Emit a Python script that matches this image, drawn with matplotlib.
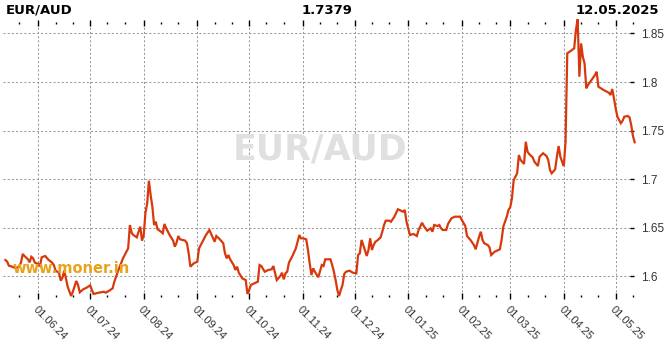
import numpy as np
import pandas as pd
import matplotlib
matplotlib.use('Agg')
import matplotlib.pyplot as plt
import matplotlib.dates as mdates
from matplotlib.ticker import FuncFormatter, MultipleLocator

pair = 'EUR/AUD'
site = 'www.moner.in'
base_date = '2024-06-01'

# days counted from base_date
day = [-19, -18, -17, -15, -13, -11, -10, -9, -8, -6, -5, -4, -3, -2,
       0, 1, 2, 4, 6, 8, 9, 10, 12, 13, 14, 15, 16, 17, 19, 20, 22, 23, 24, 26, 28,
       30, 31, 32, 35, 38, 39, 41, 43, 44, 46, 49, 51, 52, 53, 54, 55, 57, 58, 59, 60,
       61, 62, 63, 64, 65, 66, 67, 68, 69, 71, 72, 73, 74, 76, 78, 79, 80, 81, 82, 85,
       86, 87, 88, 90, 92, 93, 95, 97, 99, 100, 102, 103, 105, 107, 108, 109, 110, 111,
       113, 114, 115, 116, 118, 120, 121, 122, 123, 125, 127, 128, 129, 131, 133, 135,
       136, 137, 138, 140, 141, 142, 143, 144, 145, 147, 149, 151, 152, 153, 155, 156,
       157, 158, 159, 160, 162, 164, 165, 166, 169, 170, 171, 172, 173, 174, 175, 176,
       177, 178, 180, 182, 184, 185, 186, 187, 188, 190, 191, 192, 193, 194, 195, 196,
       198, 199, 200, 201, 203, 204, 206, 208, 209, 211, 212, 213, 214, 215, 217, 219,
       220, 222, 223, 225, 227, 228, 229, 231, 232, 233, 234, 236, 237, 239, 241, 244,
       245, 247, 248, 250, 252, 253, 255, 256, 257, 258, 260, 261, 262, 264, 267, 268,
       269, 271, 272, 273, 274, 275, 277, 278, 279, 281, 282, 283, 284, 286, 287, 289,
       290, 292, 294, 295, 296, 297, 299, 300, 301, 302, 303, 304, 305, 306, 308, 310,
       311, 312, 313, 314, 315, 316, 317, 318, 320, 322, 323, 324, 327, 330, 331, 332,
       333, 334, 335, 337, 338, 339, 341, 342, 343, 344, 345]

rate = [1.6167, 1.6150, 1.6108, 1.6098, 1.6081, 1.6100, 1.6140, 1.6229, 1.6208, 1.6174,
        1.6143, 1.6200, 1.6184, 1.6140,
        1.6126, 1.6108, 1.6195, 1.6208, 1.6167, 1.6140, 1.6115, 1.6057, 1.6036, 1.5954,
        1.5985, 1.6057, 1.5978, 1.5892, 1.5796, 1.5840, 1.5951, 1.5910, 1.5834, 1.5865,
        1.5882,
        1.5906, 1.5858, 1.5817, 1.5830, 1.5840, 1.5830, 1.5850, 1.5875, 1.5943, 1.6046,
        1.6184, 1.6252, 1.6287, 1.6527, 1.6448, 1.6424, 1.6400, 1.6458, 1.6510, 1.6366,
        1.6424, 1.6654, 1.6750, 1.6984, 1.6836, 1.6716, 1.6527, 1.6561, 1.6483, 1.6458,
        1.6442, 1.6538, 1.6493, 1.6424, 1.6366, 1.6304, 1.6345, 1.6414, 1.6380, 1.6366,
        1.6339, 1.6236, 1.6098, 1.6133, 1.6150, 1.6287, 1.6355, 1.6424, 1.6476, 1.6435,
        1.6355, 1.6414, 1.6380, 1.6339, 1.6236, 1.6184, 1.6218, 1.6174,
        1.6115, 1.6064, 1.6098, 1.6036, 1.5978, 1.5960, 1.5817, 1.5858, 1.5910, 1.5927,
        1.5943, 1.6115, 1.6105, 1.6046, 1.6064, 1.6071,
        1.6105, 1.6030, 1.5960, 1.6002, 1.6036, 1.5968, 1.6030, 1.6046, 1.6140, 1.6208,
        1.6287, 1.6424, 1.6390, 1.6390, 1.6380, 1.6270,
        1.6133, 1.6012, 1.6081, 1.6046, 1.5989, 1.6115, 1.6105, 1.6174, 1.6174, 1.6115,
        1.6046, 1.5960, 1.5858, 1.5796, 1.5858, 1.5910,
        1.6023, 1.6046, 1.6057, 1.6036, 1.6030, 1.6218, 1.6236, 1.6373, 1.6321, 1.6208,
        1.6270, 1.6390, 1.6270, 1.6321, 1.6355, 1.6366,
        1.6400, 1.6458, 1.6527, 1.6572, 1.6572, 1.6561, 1.6613, 1.6689, 1.6682, 1.6664,
        1.6682, 1.6561, 1.6493, 1.6424, 1.6435, 1.6414,
        1.6476, 1.6551, 1.6517, 1.6469, 1.6493, 1.6458, 1.6527, 1.6517, 1.6527, 1.6493,
        1.6476, 1.6476, 1.6538, 1.6596, 1.6613, 1.6613,
        1.6579, 1.6517, 1.6414, 1.6373, 1.6321, 1.6277, 1.6407, 1.6458, 1.6373, 1.6339,
        1.6321, 1.6298, 1.6218, 1.6252, 1.6277, 1.6373,
        1.6510, 1.6613, 1.6682, 1.6710, 1.6802, 1.6990, 1.7060, 1.7248, 1.7197, 1.7156,
        1.7385, 1.7282, 1.7258, 1.7224, 1.7179, 1.7135,
        1.7231, 1.7266, 1.7238, 1.7197, 1.7094, 1.7060, 1.7101, 1.7231, 1.7341, 1.7231,
        1.7179, 1.7135, 1.7385, 1.8296, 1.8320, 1.8347,
        1.8536, 1.8646, 1.8055, 1.8398, 1.8260, 1.8192, 1.7935, 1.7969, 1.8020, 1.8072,
        1.8106, 1.7952, 1.7918, 1.7890, 1.7866, 1.7928,
        1.7832, 1.7729, 1.7643, 1.7575, 1.7601, 1.7643, 1.7650, 1.7636, 1.7557, 1.7444,
        1.7379]

y_ticks = [1.6, 1.65, 1.7, 1.75, 1.8, 1.85]

W, H = 670, 350
ax_left, ax_right, ax_top, ax_bottom = 3, 634, 23, 296
line_color = '#d8390c'


def main():
    start = pd.Timestamp(base_date)
    dates = start + pd.to_timedelta(day, unit='D')

    fig = plt.figure(figsize=(W / 100, H / 100), dpi=100)
    ax = fig.add_axes([ax_left / W, 1 - ax_bottom / H,
                       (ax_right - ax_left) / W, (ax_bottom - ax_top) / H])

    ax.plot(dates, rate, color=line_color, linewidth=1.6, zorder=3, clip_on=False,
            solid_joinstyle='miter')

    ax.set_xlim(start + pd.Timedelta(days=-20.4), start + pd.Timedelta(days=344.6))
    ax.set_ylim(1.5796, 1.8608)

    for s in ax.spines.values():
        s.set_visible(False)

    ax.xaxis.set_major_locator(mdates.MonthLocator(bymonthday=1))
    ax.xaxis.set_minor_locator(mdates.DayLocator(bymonthday=[11, 21]))
    ax.xaxis.set_major_formatter(mdates.DateFormatter('%d.%m.%y'))
    ax.yaxis.set_major_locator(MultipleLocator(0.05))
    ax.yaxis.set_major_formatter(FuncFormatter(lambda v, p: f'{v:g}'))
    ax.set_yticks(y_ticks)
    ax.yaxis.tick_right()

    ax.tick_params(axis='x', which='major', top=True, bottom=True, direction='inout',
                   length=4, width=1, color='black', labelsize=8, labelcolor='#333333', pad=4)
    ax.tick_params(axis='x', which='minor', top=True, bottom=True, direction='inout',
                   length=2, width=1, color='black')
    ax.tick_params(axis='y', which='major', direction='in', length=3, width=1,
                   color='black', labelsize=8.5, labelcolor='#333333', pad=5)

    for lbl in ax.get_xticklabels():
        lbl.set_rotation(-45)
        lbl.set_ha('left')
        lbl.set_va('top')
        lbl.set_rotation_mode('anchor')
        lbl.set_fontfamily('Liberation Sans')
    for lbl in ax.get_yticklabels():
        lbl.set_fontfamily('Liberation Sans')

    ax.grid(True, which='major', color='#9a9a9a', linestyle=(0, (2, 2)), linewidth=0.75)
    ax.set_axisbelow(True)

    # watermarks
    ax.text(0.502, 0.535, pair, transform=ax.transAxes, ha='center', va='center',
            fontsize=25, fontweight='bold', color='#e0e0e0', zorder=1)
    ax.text(0.0155, 0.083, site, transform=ax.transAxes, ha='left', va='baseline',
            fontsize=10.5, fontweight='bold', color='#e8a21c', zorder=4)

    # header
    hy = 1 - 13.5 / H
    fig.text(6 / W, hy, pair, ha='left', va='baseline', fontsize=9.5, fontweight='bold')
    fig.text(327 / W, hy, f'{rate[-1]:.4f}', ha='center', va='baseline', fontsize=9.5,
             fontweight='bold')
    fig.text(659 / W, hy, dates[-1].strftime('%d.%m.%Y'), ha='right', va='baseline',
             fontsize=9.5, fontweight='bold')

    fig.savefig('out.png', dpi=100, facecolor='white')


if __name__ == '__main__':
    main()
